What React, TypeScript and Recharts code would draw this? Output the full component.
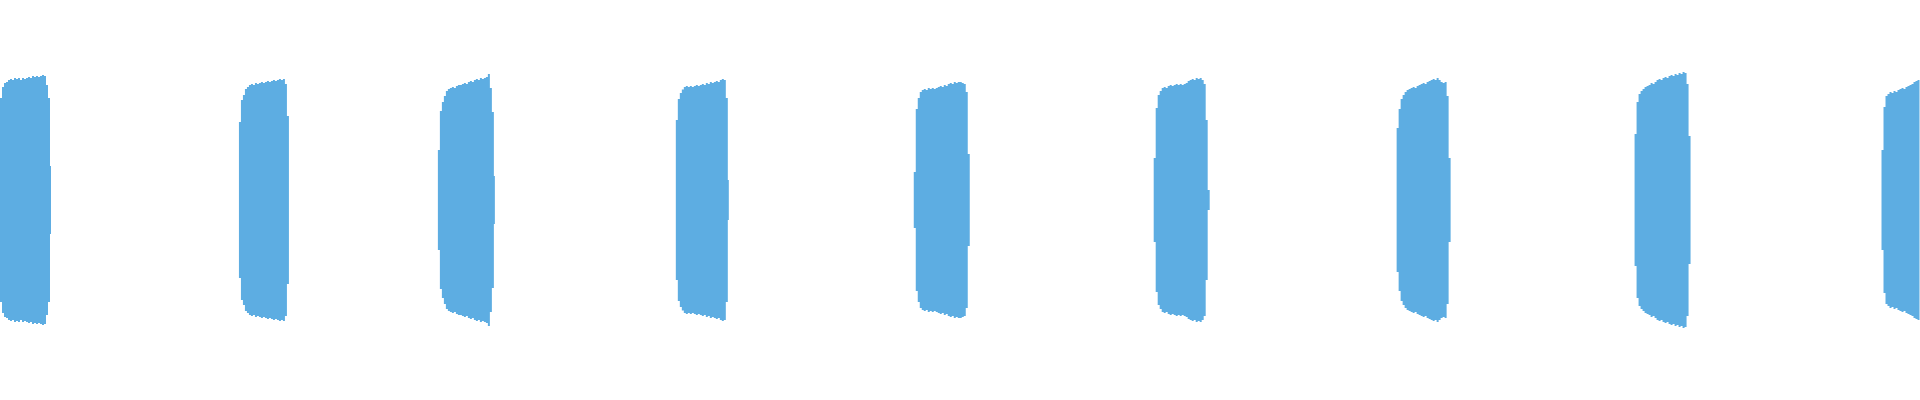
import { Area, AreaChart, XAxis, YAxis } from "recharts";

// time axis in px-like ticks (0..1920), amplitude in [-1, 1]
const TIME_DOMAIN: [number, number] = [0, 1920];
const STEP = 2;

const BURST_STARTS = [0, 239, 438, 676, 914, 1154, 1397, 1635, 1882];
const BURST_ENDS = [51, 289, 495, 729, 970, 1210, 1451, 1691, 1920];

// peak amplitude per 2-tick step
const BURST_1 = [0.51, 0.565, 0.585, 0.59, 0.6, 0.605, 0.6, 0.61, 0.605, 0.61, 0.6, 0.61, 0.605, 0.61, 0.615, 0.61, 0.62, 0.615, 0.62, 0.615, 0.62, 0.625, 0.62, 0.575, 0.51, 0.17];
const BURST_2 = [0.39, 0.5, 0.525, 0.555, 0.565, 0.575, 0.58, 0.575, 0.585, 0.58, 0.585, 0.59, 0.585, 0.59, 0.595, 0.59, 0.595, 0.6, 0.595, 0.6, 0.605, 0.6, 0.605, 0.58, 0.42];
const BURST_3 = [0.25, 0.445, 0.49, 0.52, 0.545, 0.555, 0.56, 0.565, 0.56, 0.57, 0.575, 0.575, 0.58, 0.585, 0.58, 0.59, 0.595, 0.59, 0.6, 0.605, 0.6, 0.61, 0.605, 0.61, 0.615, 0.63, 0.56, 0.44, 0.12];
const BURST_4 = [0.4, 0.505, 0.535, 0.553, 0.565, 0.57, 0.565, 0.57, 0.565, 0.57, 0.575, 0.57, 0.575, 0.58, 0.575, 0.585, 0.58, 0.59, 0.585, 0.59, 0.595, 0.59, 0.6, 0.605, 0.6, 0.51, 0.1];
const BURST_5 = [0.14, 0.455, 0.51, 0.54, 0.55, 0.555, 0.55, 0.56, 0.555, 0.56, 0.555, 0.56, 0.565, 0.57, 0.565, 0.575, 0.57, 0.58, 0.585, 0.58, 0.59, 0.585, 0.59, 0.59, 0.585, 0.58, 0.54, 0.23];
const BURST_6 = [0.21, 0.46, 0.525, 0.545, 0.56, 0.565, 0.56, 0.57, 0.575, 0.57, 0.575, 0.58, 0.575, 0.58, 0.575, 0.58, 0.585, 0.595, 0.6, 0.605, 0.6, 0.61, 0.605, 0.61, 0.6, 0.58, 0.4, 0.05];
const BURST_7 = [0.36, 0.455, 0.505, 0.525, 0.54, 0.55, 0.555, 0.56, 0.565, 0.56, 0.57, 0.575, 0.58, 0.585, 0.58, 0.59, 0.595, 0.6, 0.605, 0.6, 0.61, 0.6, 0.59, 0.585, 0.59, 0.52, 0.21];
const BURST_8 = [0.33, 0.49, 0.53, 0.545, 0.555, 0.565, 0.57, 0.575, 0.585, 0.58, 0.59, 0.6, 0.605, 0.6, 0.61, 0.615, 0.61, 0.62, 0.625, 0.62, 0.63, 0.625, 0.635, 0.63, 0.64, 0.635, 0.58, 0.32];
const BURST_9 = [0.25, 0.465, 0.52, 0.53, 0.54, 0.535, 0.545, 0.54, 0.55, 0.555, 0.56, 0.555, 0.565, 0.57, 0.575, 0.58, 0.59, 0.595, 0.6];

const BURSTS = [BURST_1, BURST_2, BURST_3, BURST_4, BURST_5, BURST_6, BURST_7, BURST_8, BURST_9];

type Row = { t: number; amp: [number, number] | null };

function buildRows(): Row[] {
  const rows: Row[] = [];
  BURSTS.forEach((amps, b) => {
    const start = BURST_STARTS[b];
    amps.forEach((a, i) => rows.push({ t: start + i * STEP, amp: [-a, a] }));
    rows.push({ t: BURST_ENDS[b], amp: [0, 0] });
    rows.push({ t: BURST_ENDS[b] + 0.5, amp: null });
  });
  return rows;
}

const data = buildRows();

export default function App() {
  return (
    <div>
      <style>{"body{margin:0;background:#fff}"}</style>
      <AreaChart width={1920} height={400} data={data} margin={{ top: 0, right: 0, left: 0, bottom: 0 }}>
        <XAxis dataKey="t" type="number" domain={TIME_DOMAIN} hide />
        <YAxis type="number" domain={[-1, 1]} hide />
        <Area
          type="stepAfter"
          dataKey="amp"
          stroke="none"
          fill="#5DADE2"
          fillOpacity={1}
          dot={false}
          activeDot={false}
          connectNulls={false}
          isAnimationActive={false}
        />
      </AreaChart>
    </div>
  );
}
